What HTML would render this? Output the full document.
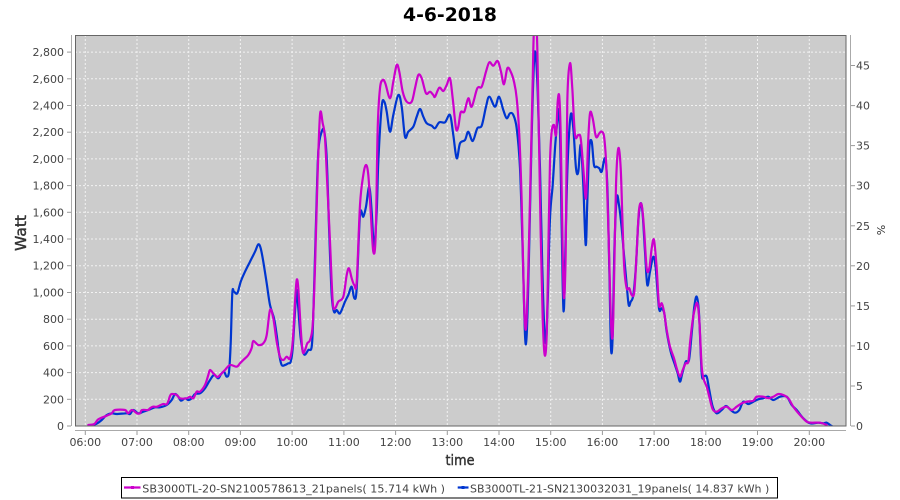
<!DOCTYPE html>
<html><head><meta charset="utf-8"><style>
html,body{margin:0;padding:0;background:#fff;width:900px;height:500px;overflow:hidden}
svg{display:block}
text{font-family:"DejaVu Sans","Liberation Sans",sans-serif}
</style></head><body>
<svg id="chart" width="900" height="500" viewBox="0 0 900 500" xmlns="http://www.w3.org/2000/svg">
<defs><clipPath id="pc"><rect x="75" y="35" width="771" height="391"/></clipPath></defs>
<rect x="0" y="0" width="900" height="500" fill="#fff"/>
<text x="450" y="21" text-anchor="middle" font-size="19" font-weight="bold" fill="#000" textLength="94" lengthAdjust="spacingAndGlyphs">4-6-2018</text>
<rect x="75" y="35" width="771" height="391" fill="#cccccc"/>
<g stroke="#f2f2f2" stroke-width="1" stroke-dasharray="2,2" fill="none">
<line x1="85.3" y1="35" x2="85.3" y2="426"/><line x1="137" y1="35" x2="137" y2="426"/><line x1="188.7" y1="35" x2="188.7" y2="426"/><line x1="240.4" y1="35" x2="240.4" y2="426"/><line x1="292.1" y1="35" x2="292.1" y2="426"/><line x1="343.9" y1="35" x2="343.9" y2="426"/><line x1="395.6" y1="35" x2="395.6" y2="426"/><line x1="447.3" y1="35" x2="447.3" y2="426"/><line x1="499" y1="35" x2="499" y2="426"/><line x1="550.7" y1="35" x2="550.7" y2="426"/><line x1="602.4" y1="35" x2="602.4" y2="426"/><line x1="654.1" y1="35" x2="654.1" y2="426"/><line x1="705.8" y1="35" x2="705.8" y2="426"/><line x1="757.5" y1="35" x2="757.5" y2="426"/><line x1="809.3" y1="35" x2="809.3" y2="426"/>
<line x1="75" y1="399.3" x2="846" y2="399.3"/><line x1="75" y1="372.6" x2="846" y2="372.6"/><line x1="75" y1="345.9" x2="846" y2="345.9"/><line x1="75" y1="319.2" x2="846" y2="319.2"/><line x1="75" y1="292.5" x2="846" y2="292.5"/><line x1="75" y1="265.7" x2="846" y2="265.7"/><line x1="75" y1="239" x2="846" y2="239"/><line x1="75" y1="212.3" x2="846" y2="212.3"/><line x1="75" y1="185.6" x2="846" y2="185.6"/><line x1="75" y1="158.9" x2="846" y2="158.9"/><line x1="75" y1="132.2" x2="846" y2="132.2"/><line x1="75" y1="105.5" x2="846" y2="105.5"/><line x1="75" y1="78.8" x2="846" y2="78.8"/><line x1="75" y1="52.1" x2="846" y2="52.1"/>
</g>
<g id="series" clip-path="url(#pc)" fill="none" stroke-linejoin="round" stroke-linecap="round" stroke-width="2.2">
<polyline class="ser" stroke="#0036d0" points="93.3,425 97.3,423.3 101.7,420 106.7,415 111.7,413.3 116.7,414 126.7,413.3 130,414 133.3,410 138.3,413.3 143.3,411.7 150,409.3 155,407.3 160,407.3 166.7,405 171.7,400 175,394 178.3,396.7 181,400.7 185,398.3 188.3,400 191.7,398.3 195,394 200,393.3 205,388.3 210,380 214,375 218.3,378.3 221,374.3 224,371.7 226.7,376.7 229,371.7 230.7,343.3 232.3,293.3 234,291.7 237.3,293.3 240.7,281.7 245,271.7 250,261.7 255,251.7 258.3,244.3 260.7,248.3 263.3,261.7 266.7,283.3 270,305 274,318.3 276.7,335 279.3,355 281.7,365 285,365 288.3,363.3 290.7,361.7 292.7,348.3 295,311.7 296.7,290 298.3,308.3 300.7,338.3 304,354.3 308.3,350 311.7,346.7 313.3,315 316,221.7 318.3,151.7 321.7,131.7 324.3,131.7 326.7,158.3 329.3,235 331.7,295 334,311.7 336.7,310 340,313.3 345,301.7 348.3,295 351.7,286.7 354.3,298.3 356.7,288.3 360,215 363.3,216.7 366,206.7 369.3,186.7 371.7,211.7 374,246.7 376.7,211.7 378.3,161.7 381.7,106.7 384.3,101.7 386.7,111.7 390,131.7 393.3,115 398.3,95 401.7,106.7 405,136.7 408.3,131.7 413.3,126.7 416.7,116.7 420,109 423.3,116.7 426.7,123.3 431.7,125.7 435,128.3 439.3,122.3 445,122.3 450,115 453.3,135 456.7,158.3 460,143.3 465,140 468.3,131.7 472.7,141 477.3,128.3 481.7,125.7 486,106.7 489.3,96.7 495,106.7 499,96.7 503.3,110 506.7,118.3 510,113.3 513.3,115 516.7,128.3 520,168.3 522.7,251.7 525,335 526.7,335 528.7,268.3 531.7,135 534,61.7 535.7,55 537.7,91.7 540,168.3 542.3,268.3 544.3,328.3 546,341.7 547.7,301.7 550,218.3 552.7,185 555,148.3 557.3,121.7 559.3,111.7 560.7,168.3 562.7,285 564,308.3 565.7,235 567.7,161.7 570.7,115 573.3,128.3 576,168.3 578.3,171.7 580.7,145 583.3,185 585.7,245 587.3,201.7 589.3,148.3 591.7,141.7 594,165 596.7,166.7 599.3,168.3 601.7,171.7 605,158.3 607.3,185 609.3,268.3 611,348.3 612.7,335 614.3,251.7 616.7,198.3 619,205 621.7,228.3 624,255 626.7,285 628.7,305 630.7,301.7 633.3,295 636,265 638.3,221.7 640.7,203.3 642.7,215 645,251.7 647.3,285 650,271.7 653.3,256.7 655.7,268.3 659,308.3 661.7,308.3 664.3,313.3 666.7,331.7 670.7,351.7 675,365 677.7,373.3 680,381.7 682.3,373.3 685.7,361.7 689,360 691.7,333.3 694.3,306.7 696.7,296.7 699,313.3 701.7,373.3 704,376 706.7,376.7 709.3,390 712.7,406.7 716.7,413.3 721.7,410 726,406 730.7,410 735,412.7 739.3,410 743.3,401.7 748.3,404 753.3,401.7 758.3,399.3 763.3,398.3 768.3,396.7 773.3,400 780,396.7 786.7,396.7 791.7,405 796.7,410 803.3,418.3 810,423.3 818.3,422.7 823.3,423.3 826.7,422.7 830,425 831.7,426"/>
<polyline class="ser" stroke="#cc00cc" points="88.3,425 94.3,424 98.3,419.3 106.7,415.7 111.7,413.3 115,410 125,410 128,413.3 132,410 137,413.3 140,413.3 142,410 148,410 150,408.3 153,406.7 157,406.7 163,404 167,404 170,396 171.7,394 176.7,395 180,398.3 186.7,398.3 190,396.7 193.3,398.3 196.7,391.7 200,391.7 205,385 208.3,375 210,370 213.3,373.3 216.7,376.7 218.3,376.7 221.7,373.3 225,370 230,365 236.7,366.7 240,363.3 243.3,360 248.3,355 251.7,348 253.3,341 258.3,345 263.3,343.3 266.7,335 270,310 273.3,318.3 276.7,341.7 280,356.7 283.3,360 286.7,356.7 290,358.3 292.7,341.7 295,301.7 296.7,280 298.3,288.3 300.7,328.3 302.7,351.7 305,350 307.3,343.3 310,340 312.7,325 315,268.3 317.3,185 320,115 322.7,123.3 325,138.3 327.3,185 330,241.7 332.7,301.7 335,308.3 338.3,301.7 343.3,296.7 346.7,275 349,268.3 351.7,278.3 354.3,285 356.7,281.7 360,205 363.3,175 366,165 368.3,175 370.7,211.7 373.3,251.7 375.7,235 377.7,128.3 380,88.3 382.7,80 385.3,83.3 390,98.3 393.3,81.7 396.7,65 399.3,71.7 402.7,91.7 406.7,101.7 411.7,101.7 415,88.3 418.3,75 421.7,78.3 426,93.3 430,91.7 433.3,95 435,96.7 439.3,87.7 443.3,91 446.7,85 450,78.3 452.7,98.3 456,128.3 458.3,126.7 460.7,112.3 464.3,111.7 468.3,98.3 471.7,106.7 477.3,88.3 481.7,86.7 486,71.7 489.3,62.3 493.3,65.7 497.7,61 501,71.7 504,84.3 507.3,68.3 510.7,71.7 514,81.7 516.7,98.3 519.3,135 521.7,201.7 524,301.7 526,328.3 528.3,268.3 530.7,168.3 532.7,80 534,30 536.7,30 538.3,101.7 540.7,235 542.7,318.3 544.7,355 546.7,335 548.3,251.7 550,161.7 551.7,131.7 554,125 556,135 557.7,101.7 559.3,96.7 560.7,135 562.7,251.7 564,298.3 565.7,251.7 567.3,101.7 570,63.3 572.3,88.3 575,135 578.3,135 580.7,138.3 583.3,168.3 586,198.3 588,145 590,113.3 592.7,118.3 596,136.7 599.3,133.3 601.7,131.7 604.3,138.3 606.7,175 609,251.7 611,321.7 612.7,335 614.3,268.3 616,185 618.3,148.3 620.7,168.3 622.7,228.3 624.3,268.3 626.7,288.3 629.3,288.3 631.7,295 634.3,291.7 636.7,251.7 639,210 641.7,205 644,228.3 646.7,268.3 649.3,268.3 651.7,248.3 654,240 656.7,268.3 659,305 661.7,303.3 664,311.7 666.7,330 670,346.7 674,358.3 676.7,368.3 680,376.7 682.7,370 685.7,363.3 688.3,361.7 690,343.3 692.7,320 695,308.3 697.3,303.3 699.3,320 701.7,366.7 704,380 706.7,386.7 709.3,396.7 712.7,409.3 716.7,411.7 721.7,408.3 726.7,406.7 731.7,410 736.7,406.7 741.7,403.3 746.7,401.7 753.3,400.7 756.7,396.7 763.3,396.7 768.3,398.3 773.3,396.7 778.3,394 783.3,395 788.3,398.3 793.3,406.7 800,415 806.7,421.7 811.7,422.7 820,422.7 826.7,425"/>
</g>
<rect x="75.5" y="35.5" width="770.5" height="390.5" fill="none" stroke="#666" stroke-width="1"/>
<g stroke="#aaa" stroke-width="1" fill="none">
<line x1="71.5" y1="35" x2="71.5" y2="426"/>
<line x1="75" y1="430.5" x2="846" y2="430.5"/>
<line x1="850.5" y1="35" x2="850.5" y2="426"/>
</g>
<g stroke="#999" stroke-width="1">
<line x1="67" y1="426" x2="71" y2="426"/><line x1="67" y1="399.3" x2="71" y2="399.3"/><line x1="67" y1="372.6" x2="71" y2="372.6"/><line x1="67" y1="345.9" x2="71" y2="345.9"/><line x1="67" y1="319.2" x2="71" y2="319.2"/><line x1="67" y1="292.5" x2="71" y2="292.5"/><line x1="67" y1="265.7" x2="71" y2="265.7"/><line x1="67" y1="239" x2="71" y2="239"/><line x1="67" y1="212.3" x2="71" y2="212.3"/><line x1="67" y1="185.6" x2="71" y2="185.6"/><line x1="67" y1="158.9" x2="71" y2="158.9"/><line x1="67" y1="132.2" x2="71" y2="132.2"/><line x1="67" y1="105.5" x2="71" y2="105.5"/><line x1="67" y1="78.8" x2="71" y2="78.8"/><line x1="67" y1="52.1" x2="71" y2="52.1"/>
<line x1="85.3" y1="431" x2="85.3" y2="435"/><line x1="137" y1="431" x2="137" y2="435"/><line x1="188.7" y1="431" x2="188.7" y2="435"/><line x1="240.4" y1="431" x2="240.4" y2="435"/><line x1="292.1" y1="431" x2="292.1" y2="435"/><line x1="343.9" y1="431" x2="343.9" y2="435"/><line x1="395.6" y1="431" x2="395.6" y2="435"/><line x1="447.3" y1="431" x2="447.3" y2="435"/><line x1="499" y1="431" x2="499" y2="435"/><line x1="550.7" y1="431" x2="550.7" y2="435"/><line x1="602.4" y1="431" x2="602.4" y2="435"/><line x1="654.1" y1="431" x2="654.1" y2="435"/><line x1="705.8" y1="431" x2="705.8" y2="435"/><line x1="757.5" y1="431" x2="757.5" y2="435"/><line x1="809.3" y1="431" x2="809.3" y2="435"/>
<line x1="851" y1="426" x2="855" y2="426"/><line x1="851" y1="386" x2="855" y2="386"/><line x1="851" y1="345.9" x2="855" y2="345.9"/><line x1="851" y1="305.9" x2="855" y2="305.9"/><line x1="851" y1="265.8" x2="855" y2="265.8"/><line x1="851" y1="225.8" x2="855" y2="225.8"/><line x1="851" y1="185.7" x2="855" y2="185.7"/><line x1="851" y1="145.6" x2="855" y2="145.6"/><line x1="851" y1="105.6" x2="855" y2="105.6"/><line x1="851" y1="65.5" x2="855" y2="65.5"/>
</g>
<g font-size="11" fill="#444" text-anchor="end">
<text x="64" y="430">0</text><text x="64" y="403.3">200</text><text x="64" y="376.6">400</text><text x="64" y="349.9">600</text><text x="64" y="323.2">800</text><text x="64" y="296.5">1,000</text><text x="64" y="269.7">1,200</text><text x="64" y="243">1,400</text><text x="64" y="216.3">1,600</text><text x="64" y="189.6">1,800</text><text x="64" y="162.9">2,000</text><text x="64" y="136.2">2,200</text><text x="64" y="109.5">2,400</text><text x="64" y="82.8">2,600</text><text x="64" y="56.1">2,800</text>
</g>
<g font-size="11" fill="#444" text-anchor="middle">
<text x="85.3" y="446">06:00</text><text x="137" y="446">07:00</text><text x="188.7" y="446">08:00</text><text x="240.4" y="446">09:00</text><text x="292.1" y="446">10:00</text><text x="343.9" y="446">11:00</text><text x="395.6" y="446">12:00</text><text x="447.3" y="446">13:00</text><text x="499" y="446">14:00</text><text x="550.7" y="446">15:00</text><text x="602.4" y="446">16:00</text><text x="654.1" y="446">17:00</text><text x="705.8" y="446">18:00</text><text x="757.5" y="446">19:00</text><text x="809.3" y="446">20:00</text>
</g>
<g font-size="11" fill="#444">
<text x="856" y="430">0</text><text x="856" y="390">5</text><text x="856" y="349.9">10</text><text x="856" y="309.9">15</text><text x="856" y="269.8">20</text><text x="856" y="229.8">25</text><text x="856" y="189.7">30</text><text x="856" y="149.6">35</text><text x="856" y="109.6">40</text><text x="856" y="69.5">45</text>
</g>
<text x="460" y="465" text-anchor="middle" font-size="14" fill="#333" textLength="29" lengthAdjust="spacingAndGlyphs" style="font-family:'DejaVu Sans',sans-serif;stroke:#333;stroke-width:0.4">time</text>
<text transform="translate(26,233) rotate(-90)" text-anchor="middle" font-size="15" fill="#333" textLength="36" lengthAdjust="spacingAndGlyphs" style="font-family:'DejaVu Sans',sans-serif;stroke:#333;stroke-width:0.4">Watt</text>
<text transform="translate(885,230) rotate(-90)" text-anchor="middle" font-size="11" fill="#333">%</text>
<rect x="121.5" y="477.5" width="656" height="20.5" fill="#fff" stroke="#000" stroke-width="1"/>
<line x1="124" y1="487.5" x2="140.5" y2="487.5" stroke="#cc00cc" stroke-width="2.2"/>
<rect x="131" y="486" width="3" height="3" fill="#cc00cc"/>
<text x="142.3" y="492.5" font-size="11" fill="#444" textLength="302.7" lengthAdjust="spacingAndGlyphs">SB3000TL-20-SN2100578613_21panels( 15.714 kWh )</text>
<line x1="457.7" y1="487.5" x2="468.5" y2="487.5" stroke="#0036d0" stroke-width="2.2"/>
<rect x="461.5" y="486" width="3" height="3" fill="#0036d0"/>
<text x="470" y="492.5" font-size="11" fill="#444" textLength="299.3" lengthAdjust="spacingAndGlyphs">SB3000TL-21-SN2130032031_19panels( 14.837 kWh )</text>
</svg>
<script>
(function(){
  try{
    var ns="http://www.w3.org/2000/svg";
    var pls=document.querySelectorAll("polyline.ser");
    for(var k=0;k<pls.length;k++){
      var pl=pls[k];
      var raw=pl.getAttribute("points").trim().split(/\s+/);
      var p=[];
      for(var i=0;i<raw.length;i++){var a=raw[i].split(",");p.push([+a[0],+a[1]]);}
      var d="M"+p[0][0]+","+p[0][1];
      for(var i=0;i<p.length-1;i++){
        var p0=p[i>0?i-1:i],p1=p[i],p2=p[i+1],p3=p[i+2<p.length?i+2:i+1];
        var c1x=p1[0]+(p2[0]-p0[0])/6,c1y=p1[1]+(p2[1]-p0[1])/6;
        var c2x=p2[0]-(p3[0]-p1[0])/6,c2y=p2[1]-(p3[1]-p1[1])/6;
        d+=" C"+c1x.toFixed(2)+","+c1y.toFixed(2)+" "+c2x.toFixed(2)+","+c2y.toFixed(2)+" "+p2[0]+","+p2[1];
      }
      var path=document.createElementNS(ns,"path");
      path.setAttribute("d",d);
      path.setAttribute("stroke",pl.getAttribute("stroke"));
      pl.parentNode.insertBefore(path,pl);
      pl.parentNode.removeChild(pl);
    }
  }catch(e){}
})();
</script>
</body></html>
